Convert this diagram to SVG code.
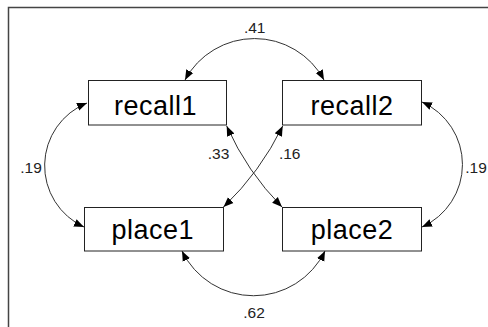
<svg xmlns="http://www.w3.org/2000/svg" width="488" height="327" viewBox="0 0 488 327">
<style>
.frame{fill:none;stroke:#444;stroke-width:1.5}
.box{fill:#fff;stroke:#222;stroke-width:1}
.name{font-family:"Liberation Sans",Arial,sans-serif;font-size:27px;letter-spacing:0.5px;fill:#000;text-anchor:middle}
.lbl{font-family:"Liberation Sans",Arial,sans-serif;font-size:15.5px;fill:#222;text-anchor:middle}
.con{fill:none;stroke:#333;stroke-width:1;marker-start:url(#ah);marker-end:url(#ah)}
</style>
<defs>
<marker id="ah" markerUnits="userSpaceOnUse" markerWidth="12" markerHeight="10" refX="10" refY="4" orient="auto-start-reverse" viewBox="0 0 12 8">
<path d="M0,0 L10,4 L0,8 Z" fill="#000"/>
</marker>
</defs>
<rect width="488" height="327" fill="#fff"/>
<rect class="frame" x="8.5" y="7.5" width="500" height="340"/>
<g id="connectors">
<path class="con" d="M185,80 A79,79 0 0 1 324,80"/>
<path class="con" d="M182,251 A79.5,79.5 0 0 0 325,251"/>
<path class="con" d="M87,103 A67.5,67.5 0 0 0 84,227"/>
<path class="con" d="M422,102 A68.5,68.5 0 0 1 422,227"/>
<path class="con" d="M226.7,126 Q247,171.6 282,207"/>
<path class="con" d="M282.7,126 Q260.4,171.8 223.5,207"/>
<text class="lbl" x="254.7" y="33">.41</text>
<text class="lbl" x="254" y="318">.62</text>
<text class="lbl" x="31" y="173">.19</text>
<text class="lbl" x="476" y="173">.19</text>
<text class="lbl" x="218.5" y="159">.33</text>
<text class="lbl" x="289.7" y="159">.16</text>
</g>
<g id="recall1">
<rect class="box" x="88.5" y="80.5" width="138" height="44.5"/>
<text class="name" x="155.5" y="114.5">recall1</text>
</g>
<g id="recall2">
<rect class="box" x="282.5" y="80.5" width="139" height="44.5"/>
<text class="name" x="352" y="114.5">recall2</text>
</g>
<g id="place1">
<rect class="box" x="84.5" y="207.5" width="139" height="43.5"/>
<text class="name" x="152.8" y="239.3">place1</text>
</g>
<g id="place2">
<rect class="box" x="282.5" y="207.5" width="139" height="43.5"/>
<text class="name" x="352" y="239.3">place2</text>
</g>
</svg>
